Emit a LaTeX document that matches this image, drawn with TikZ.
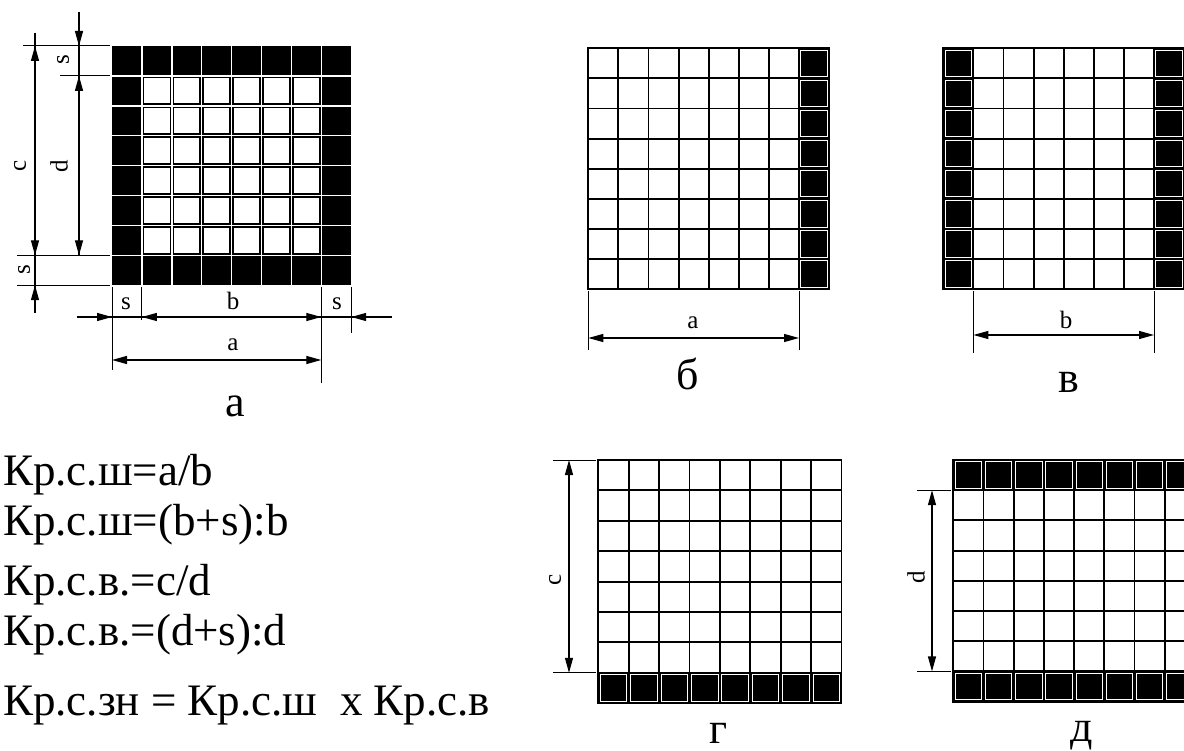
\documentclass[tikz,border=0pt]{standalone}
\usepackage{fontspec}
\setmainfont{Liberation Serif}
\usetikzlibrary{arrows.meta}
\newcommand{\blackcell}[3]{%
  \fill[black] (#1,#2) rectangle ++(#3,#3);
  \draw[white,line width=0.9pt] (#1+1.9,#2+1.9) rectangle ++(#3-3.8,#3-3.8);}
\newcommand{\plaingrid}[3]{%
  \foreach \k in {0,...,8} {
    \draw[gridline] (#1+\k*#3,#2) -- ++(0,8*#3);
    \draw[gridline] (#1,#2+\k*#3) -- ++(8*#3,0);}}
\begin{document}
\begin{tikzpicture}[x=1pt,y=-1pt,
  gridline/.style={line width=1.9pt,line cap=rect},
  dimline/.style={line width=1.2pt},
  extline/.style={line width=1pt},
  tip/.style={-{Triangle[length=15pt,width=8pt]}},
  both/.style={{Triangle[length=15pt,width=8pt]}-{Triangle[length=15pt,width=8pt]}},
  lbl/.style={font=\fontsize{25}{25}\selectfont, inner sep=0pt},
  capt/.style={font=\fontsize{44}{44}\selectfont, inner sep=0pt, anchor=base},
  frm/.style={font=\fontsize{45}{45}\selectfont, inner sep=0pt, anchor=base west},
]
\useasboundingbox (0,0) rectangle (1184,751);
\clip (0,0) rectangle (1184,751);
\fill[white] (0,0) rectangle (1184,751);

% ---------- figure a ----------
\fill[black] (112,46) rectangle (351.2,285.2);
\foreach \k in {1,...,7} {
  \draw[white,line width=1.5pt] (112+\k*29.9,46) -- ++(0,239.2);
  \draw[white,line width=1.5pt] (112,46+\k*29.9) -- ++(239.2,0);}
\foreach \i in {1,...,6} \foreach \j in {1,...,6}
  \fill[white] (112+\i*29.9+2.3,46+\j*29.9+2.3) rectangle ++(25.3,25.3);

% vertical dimensions
\draw[extline] (23,46) -- (110,46);
\draw[extline] (60,75.9) -- (110,75.9);
\draw[extline] (17,255.3) -- (110,255.3);
\draw[extline] (17,285.2) -- (110,285.2);
\draw[dimline] (35,33) -- (35,313);
\draw[dimline,tip] (35,64) -- (35,46);
\draw[dimline,tip] (35,237) -- (35,255.3);
\draw[dimline,tip] (35,303) -- (35,285.2);
\draw[dimline] (79,12) -- (79,255.3);
\draw[dimline,tip] (79,28) -- (79,46);
\draw[dimline,tip] (79,94) -- (79,75.9);
\draw[dimline,tip] (79,237) -- (79,255.3);
\node[lbl,rotate=90] (lc) at (20,166) {c};
\node[lbl,rotate=90] (ld) at (59,166) {d};
\node[lbl,rotate=90] (ls1) at (63,60) {s};
\node[lbl,rotate=90] (ls2) at (24,270) {s};

% horizontal dimensions
\draw[extline] (112,287) -- (112,370);
\draw[extline] (141.9,287) -- (141.9,320);
\draw[extline] (321.3,287) -- (321.3,383);
\draw[extline] (351.2,287) -- (351.2,333);
\draw[dimline] (77,317) -- (392,317);
\draw[dimline,tip] (94,317) -- (112,317);
\draw[dimline,tip] (160,317) -- (141.9,317);
\draw[dimline,tip] (303,317) -- (321.3,317);
\draw[dimline,tip] (369,317) -- (351.2,317);
\draw[dimline,both] (112,360) -- (321.3,360);
\node[lbl] (ls3) at (126,304) {s};
\node[lbl] (lb) at (233,301) {b};
\node[lbl] (ls4) at (337,304) {s};
\node[lbl] (la) at (233,345) {a};
\node[capt] (capa) at (235,417) {а};

% ---------- figure b (б) ----------
\foreach \j in {0,...,7} {\blackcell{588.3+7*30.1}{48.3+\j*30.1}{30.1}}
\plaingrid{588.3}{48.3}{30.1}
\draw[extline] (588.3,291) -- (588.3,350);
\draw[extline] (799,291) -- (799,350);
\draw[dimline,both] (588.3,338) -- (799,338);
\node[lbl] (lab) at (693,323) {a};
\node[capt] (capb) at (688,390) {б};

% ---------- figure v (в) ----------
\foreach \j in {0,...,7} {
  \blackcell{943.3}{48.3+\j*30.1}{30.1}
  \blackcell{943.3+7*30.1}{48.3+\j*30.1}{30.1}}
\plaingrid{943.3}{48.3}{30.1}
\draw[extline] (973.4,291) -- (973.4,353);
\draw[extline] (1154,291) -- (1154,353);
\draw[dimline,both] (973.4,335) -- (1154,335);
\node[lbl] (lbv) at (1066,320) {b};
\node[capt] (capv) at (1069,392) {в};

% ---------- figure g (г) ----------
\foreach \i in {0,...,7} {\blackcell{598.3+\i*30.4}{460+7*30.4}{30.4}}
\plaingrid{598.3}{460}{30.4}
\draw[extline] (553,460) -- (596,460);
\draw[extline] (553,672.8) -- (596,672.8);
\draw[dimline,both] (569,460) -- (569,672.8);
\node[lbl,rotate=90] (lcg) at (555,580) {c};
\node[capt] (capg) at (719,743) {г};

% ---------- figure d (д) ----------
\foreach \i in {0,...,7} {
  \blackcell{953.3+\i*30.2}{460}{30.2}
  \blackcell{953.3+\i*30.2}{460+7*30.2}{30.2}}
\plaingrid{953.3}{460}{30.2}
\draw[extline] (917,490.2) -- (951,490.2);
\draw[extline] (917,671.4) -- (951,671.4);
\draw[dimline,both] (932,490.2) -- (932,671.4);
\node[lbl,rotate=90] (ldd) at (916,577) {d};
\node[capt] (capd) at (1082,741) {д};

% ---------- formulas ----------
\node[frm] (f1) at (3,485) {Кр.с.ш=a/b};
\node[frm] (f2) at (3,535) {Кр.с.ш=(b+s):b};
\node[frm] (f3) at (3,595) {Кр.с.в.=c/d};
\node[frm] (f4) at (3,645) {Кр.с.в.=(d+s):d};
\node[frm] (f5) at (3,715) {Кр.с.зн = Кр.с.ш\ \ x Кр.с.в};
\end{tikzpicture}
\end{document}
